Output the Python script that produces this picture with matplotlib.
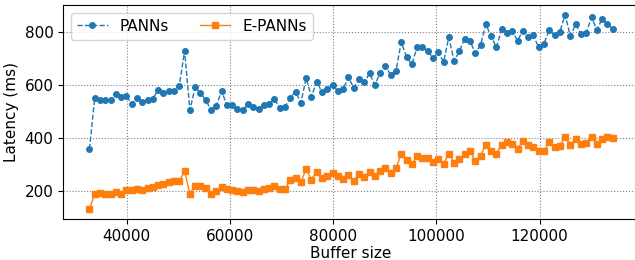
import matplotlib
matplotlib.use("Agg")
import matplotlib.pyplot as plt

# buffer sizes: 32768 .. 134144 in steps of 1024
buffer_sizes = list(range(32768, 134145, 1024))

panns_latency = [
    359, 553, 545, 545, 544, 568, 556, 559, 529, 552,
    537, 545, 548, 582, 569, 576, 578, 598, 729, 506,
    591, 570, 543, 506, 521, 578, 524, 524, 509, 506,
    527, 516, 511, 523, 530, 548, 513, 517, 553, 575,
    533, 626, 556, 613, 573, 585, 599, 579, 584, 630,
    589, 622, 610, 644, 601, 645, 670, 639, 654, 762,
    705, 679, 742, 742, 730, 701, 724, 687, 780, 692,
    727, 775, 767, 720, 750, 829, 784, 742, 810, 795,
    804, 767, 804, 780, 787, 742, 756, 808, 787, 800,
    865, 784, 829, 793, 797, 855, 809, 848, 830, 812,
]

epanns_latency = [
    132, 191, 195, 188, 190, 196, 190, 203, 206, 210,
    204, 213, 217, 222, 227, 233, 239, 239, 276, 191,
    220, 219, 213, 190, 201, 216, 207, 203, 201, 198,
    205, 204, 199, 209, 213, 220, 209, 207, 243, 251,
    233, 283, 244, 274, 251, 256, 267, 256, 245, 263,
    240, 265, 255, 273, 257, 275, 287, 269, 287, 339,
    317, 301, 331, 324, 327, 311, 320, 304, 342, 307,
    320, 342, 350, 315, 333, 375, 353, 342, 376, 384,
    378, 359, 389, 373, 368, 350, 353, 384, 365, 372,
    404, 374, 396, 377, 382, 406, 379, 396, 406, 401,
]

plt.rcParams["font.size"] = 11

fig = plt.figure(figsize=(6.35, 2.6), dpi=100)
# right edge of the axes sits just past the image border, as in the original
ax = fig.add_axes([63.3 / 635, 41 / 260, 575.5 / 635, 214 / 260])

ax.plot(buffer_sizes, panns_latency, linestyle="--", marker="o", markersize=4,
        linewidth=1, color="tab:blue", label="PANNs")
ax.plot(buffer_sizes, epanns_latency, linestyle="-", marker="s", markersize=4,
        linewidth=1, color="tab:orange", label="E-PANNs")

ax.set_xlabel("Buffer size", labelpad=2)
ax.set_ylabel("Latency (ms)")
ax.set_xticks([40000, 60000, 80000, 100000, 120000])
ax.set_yticks([200, 400, 600, 800])
ax.grid(True, linestyle=":", color="gray", linewidth=0.8)
ax.legend(loc="upper left", ncol=2)

fig.savefig("out.png", dpi=100)
